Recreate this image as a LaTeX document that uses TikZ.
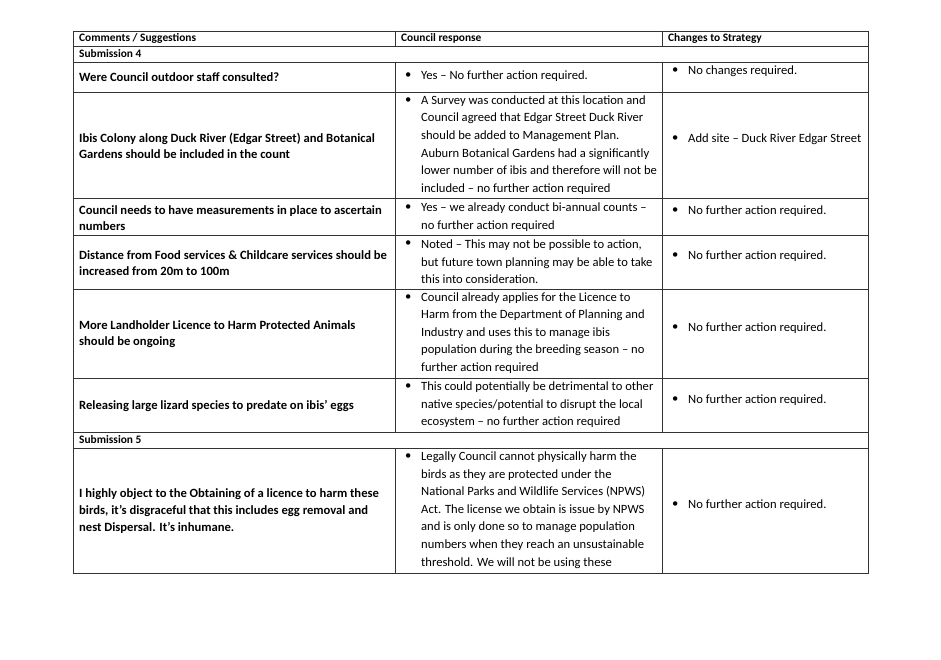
\documentclass[tikz,border=0pt]{standalone}
\usepackage{fontspec}
\setmainfont{Carlito}
\begin{document}
\begin{tikzpicture}[x=1pt,y=-1pt,
  cell/.style={anchor=west,align=left,inner sep=0pt,font=\fontsize{12.6}{17.6}\selectfont},
  bcell/.style={cell,font=\fontsize{12.6}{16.6}\selectfont\bfseries},
  hcell/.style={anchor=west,inner sep=0pt,font=\fontsize{11.4}{12}\selectfont\bfseries},
  bul/.style={anchor=west,inner sep=0pt,font=\fontsize{12.6}{17.6}\selectfont},
  grid/.style={line width=0.6pt,black!80}]
\useasboundingbox (0,0) rectangle (941,660);
\fill[white] (0,0) rectangle (941,660);
% frame
\draw[grid] (73,31) rectangle (868,573);
\foreach \y in {46,62,92,198,235,289,378,432,448} \draw[grid] (73,\y) -- (868,\y);
\foreach \a/\b in {31/46,62/432,448/573} {\draw[grid] (395,\a) -- (395,\b); \draw[grid] (662,\a) -- (662,\b);}
% header
\node[hcell] (h1) at (79,38.5) {Comments / Suggestions};
\node[hcell] (h2) at (401,38.5) {Council response};
\node[hcell] (h3) at (668,38.5) {Changes to Strategy};
\node[hcell] (s4) at (79,54) {Submission 4};
\node[hcell] (s5) at (79,440) {Submission 5};
% row 1
\node[bcell] (c11) at (79,77) {Were Council outdoor staff consulted?};
\node[bul] (b12) at (405,76) {•}; \node[cell] (c12) at (421,76) {Yes – No further action required.};
\node[bul] (b13) at (672,71) {•}; \node[cell] (c13) at (688,71) {No changes required.};
% row 2
\node[bcell] (c21) at (79,146) {Ibis Colony along Duck River (Edgar Street) and Botanical\\Gardens should be included in the count};
\node[bul] (b22) at (405,101) {•}; \node[cell] (c22) at (421,145) {A Survey was conducted at this location and\\Council agreed that Edgar Street Duck River\\should be added to Management Plan.\\Auburn Botanical Gardens had a significantly\\lower number of ibis and therefore will not be\\included – no further action required};
\node[bul] (b23) at (672,139) {•}; \node[cell] (c23) at (688,139) {Add site – Duck River Edgar Street};
% row 3
\node[bcell] (c31) at (79,218) {Council needs to have measurements in place to ascertain\\numbers};
\node[bul] (b32) at (405,208) {•}; \node[cell] (c32) at (421,217) {Yes – we already conduct bi-annual counts –\\no further action required};
\node[bul] (b33) at (672,211) {•}; \node[cell] (c33) at (688,211) {No further action required.};
% row 4
\node[bcell] (c41) at (79,263) {Distance from Food services \& Childcare services should be\\increased from 20m to 100m};
\node[bul] (b42) at (405,244) {•}; \node[cell] (c42) at (421,262) {Noted – This may not be possible to action,\\but future town planning may be able to take\\this into consideration.};
\node[bul] (b43) at (672,256) {•}; \node[cell] (c43) at (688,256) {No further action required.};
% row 5
\node[bcell] (c51) at (79,334) {More Landholder Licence to Harm Protected Animals\\should be ongoing};
\node[bul] (b52) at (405,298) {•}; \node[cell] (c52) at (421,333) {Council already applies for the Licence to\\Harm from the Department of Planning and\\Industry and uses this to manage ibis\\population during the breeding season – no\\further action required};
\node[bul] (b53) at (672,328) {•}; \node[cell] (c53) at (688,328) {No further action required.};
% row 6
\node[bcell] (c61) at (79,406) {Releasing large lizard species to predate on ibis’ eggs};
\node[bul] (b62) at (405,387) {•}; \node[cell] (c62) at (421,405) {This could potentially be detrimental to other\\native species/potential to disrupt the local\\ecosystem – no further action required};
\node[bul] (b63) at (672,400) {•}; \node[cell] (c63) at (688,400) {No further action required.};
% row 7
\node[bcell] (c71) at (79,511) {I highly object to the Obtaining of a licence to harm these\\birds, it's disgraceful that this includes egg removal and\\nest Dispersal. It's inhumane.};
\node[bul] (b72) at (405,457) {•}; \node[cell] (c72) at (421,510) {Legally Council cannot physically harm the\\birds as they are protected under the\\National Parks and Wildlife Services (NPWS)\\Act. The license we obtain is issue by NPWS\\and is only done so to manage population\\numbers when they reach an unsustainable\\threshold. We will not be using these};
\node[bul] (b73) at (672,505) {•}; \node[cell] (c73) at (688,505) {No further action required.};
\end{tikzpicture}
\end{document}
